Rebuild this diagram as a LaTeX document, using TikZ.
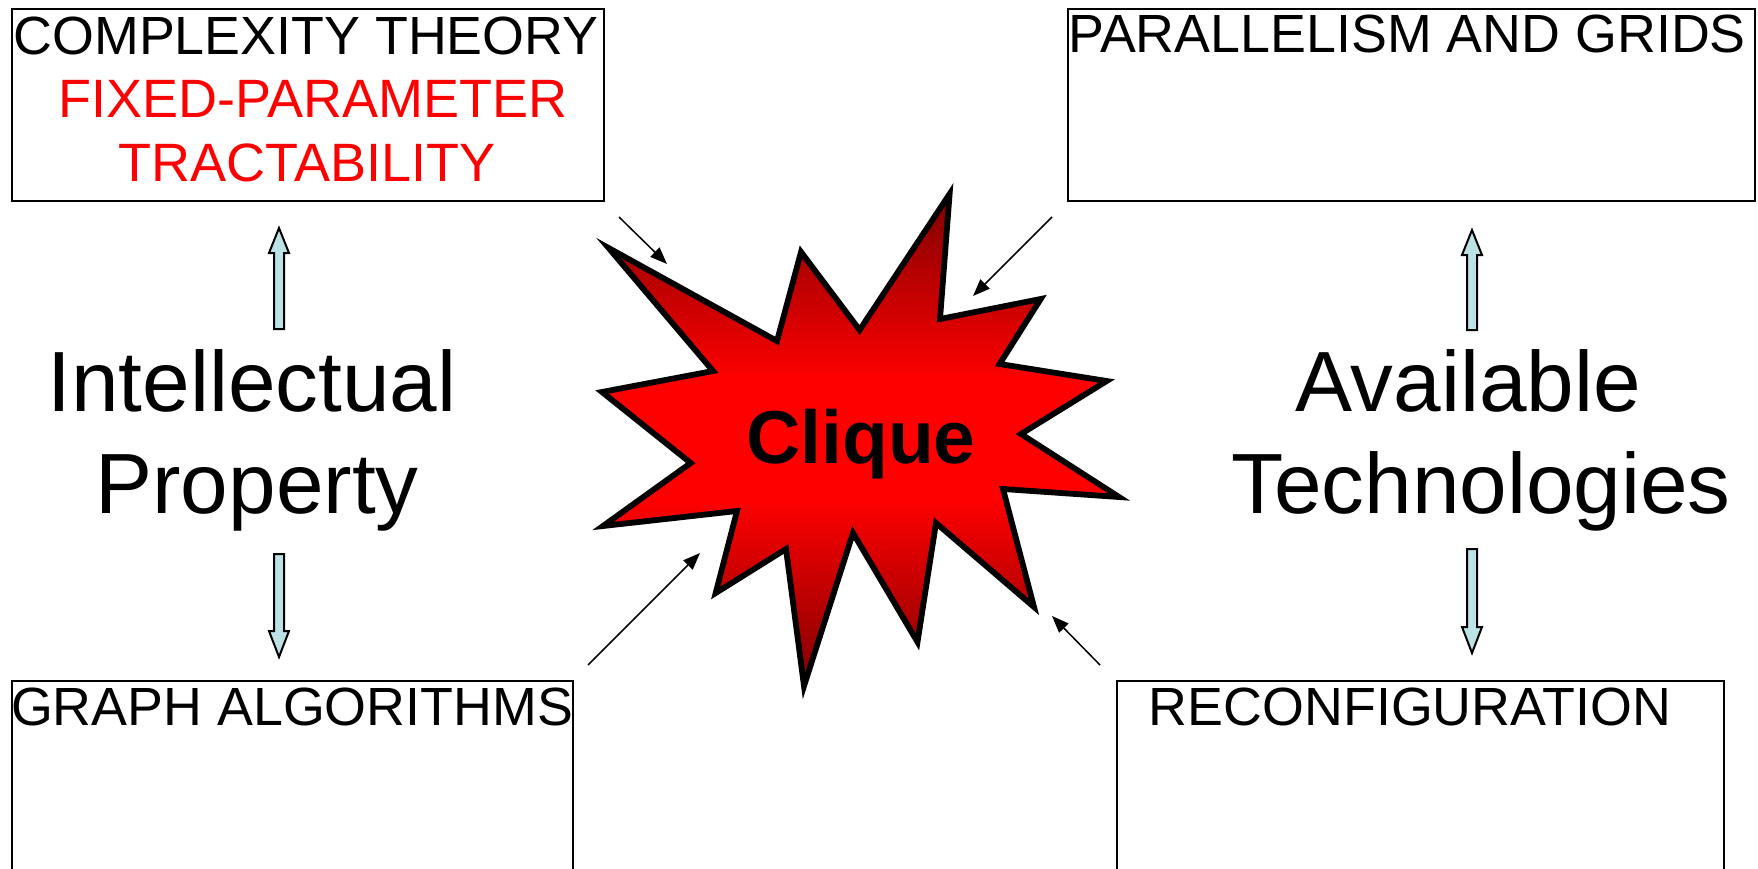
\documentclass[tikz,border=0pt]{standalone}
\usepackage{fontspec}
\setmainfont{Liberation Sans}
\usetikzlibrary{arrows.meta}
\definecolor{burstdark}{RGB}{128,0,0}
\definecolor{burstlight}{RGB}{255,0,0}
\definecolor{blockfill}{RGB}{188,226,229}
% dark rim at top and bottom, broad bright band across the middle
\pgfdeclareverticalshading{burstshade}{100bp}{color(0bp)=(burstdark); color(25bp)=(burstdark);
  color(44bp)=(burstlight); color(56bp)=(burstlight); color(75bp)=(burstdark); color(100bp)=(burstdark)}
\begin{document}
\begin{tikzpicture}[x=1pt,y=-1pt,
  box/.style={draw=black, line width=2pt, inner sep=0pt, outer sep=0pt},
  boxlabel/.style={anchor=base, inner sep=0pt, font=\fontsize{53.8}{60}\selectfont},
  redlabel/.style={anchor=base, inner sep=0pt, text=red, font=\fontsize{54}{60}\selectfont},
  biglabel/.style={anchor=base, inner sep=0pt, font=\fontsize{85.5}{100}\selectfont},
  pointer/.style={draw=black, line width=1.5pt, -{Triangle[length=17pt,width=13pt]}},
  blockarrow/.style={draw=black, line width=2pt, fill=blockfill, line join=miter},
  burst/.style={draw=black, line width=5.8pt, line join=miter, miter limit=25, shading=burstshade},
]
\useasboundingbox (0,0) rectangle (1758,869);
\clip (0,0) rectangle (1758,869);

% four topic boxes
\node[box, minimum width=592pt, minimum height=192pt] (cplx) at (308,105) {};
\node[box, minimum width=687pt, minimum height=192pt] (para) at (1411.5,105) {};
\node[box, minimum width=561pt, minimum height=219pt] (graph) at (292.3,790.5) {};
\node[box, minimum width=607pt, minimum height=219pt] (reconf) at (1420.5,790.5) {};

% box titles
\node[boxlabel] (cplxt) at (306,55) {COMPLEXITY THEORY};
\node[redlabel] (fpt1) at (313,118) {FIXED-PARAMETER};
\node[redlabel] (fpt2) at (307,182) {TRACTABILITY};
\node[boxlabel] (parat) at (1407,53) {PARALLELISM AND GRIDS};
\node[boxlabel] (grapht) at (292,725) {GRAPH ALGORITHMS};
\node[boxlabel] (reconft) at (1410,725) {RECONFIGURATION};

% side headings
\node[biglabel] (ip1) at (252,411) {Intellectual};
\node[biglabel] (ip2) at (257,513) {Property};
\node[biglabel] (at1) at (1468,411) {Available};
\node[biglabel] (at2) at (1481,513) {Technologies};

% block arrows
\path[blockarrow] (274,329) -- (274,253) -- (269,253) -- (279,228) -- (289,253) -- (284,253) -- (284,329) -- cycle;
\path[blockarrow] (274,554) -- (274,631) -- (269,631) -- (279,657) -- (289,631) -- (284,631) -- (284,554) -- cycle;
\path[blockarrow] (1467,330) -- (1467,255) -- (1462,255) -- (1472,230) -- (1482,255) -- (1477,255) -- (1477,330) -- cycle;
\path[blockarrow] (1467,549) -- (1467,627) -- (1462,627) -- (1472,653) -- (1482,627) -- (1477,627) -- (1477,549) -- cycle;

% central explosion
\path[burst] (949.6,194) -- (940,319) -- (1040.7,299) -- (999.6,364) -- (1106.7,381)
  -- (1021,434) -- (1119,497) -- (1003,489) -- (1034,607) -- (936,523)
  -- (917.5,642) -- (853,533) -- (804,686) -- (786,549) -- (715.7,593)
  -- (737,511) -- (603,526) -- (690.7,463) -- (602,392) -- (713,371)
  -- (608.6,248) -- (777,341) -- (801,252) -- (859.6,330) -- cycle;
\node[anchor=base, inner sep=0pt, font=\fontsize{75}{80}\selectfont\bfseries] (clique) at (861,463) {Clique};

% pointers into the explosion
\coordinate (aS) at (619,217);   \coordinate (aE) at (667,264);
\coordinate (bS) at (1052,217);  \coordinate (bE) at (973,296);
\coordinate (cS) at (588,665);   \coordinate (cE) at (700,553);
\coordinate (dS) at (1100,665);  \coordinate (dE) at (1052,616);
\draw[pointer] (aS) -- (aE);
\draw[pointer] (bS) -- (bE);
\draw[pointer] (cS) -- (cE);
\draw[pointer] (dS) -- (dE);
\end{tikzpicture}
\end{document}
